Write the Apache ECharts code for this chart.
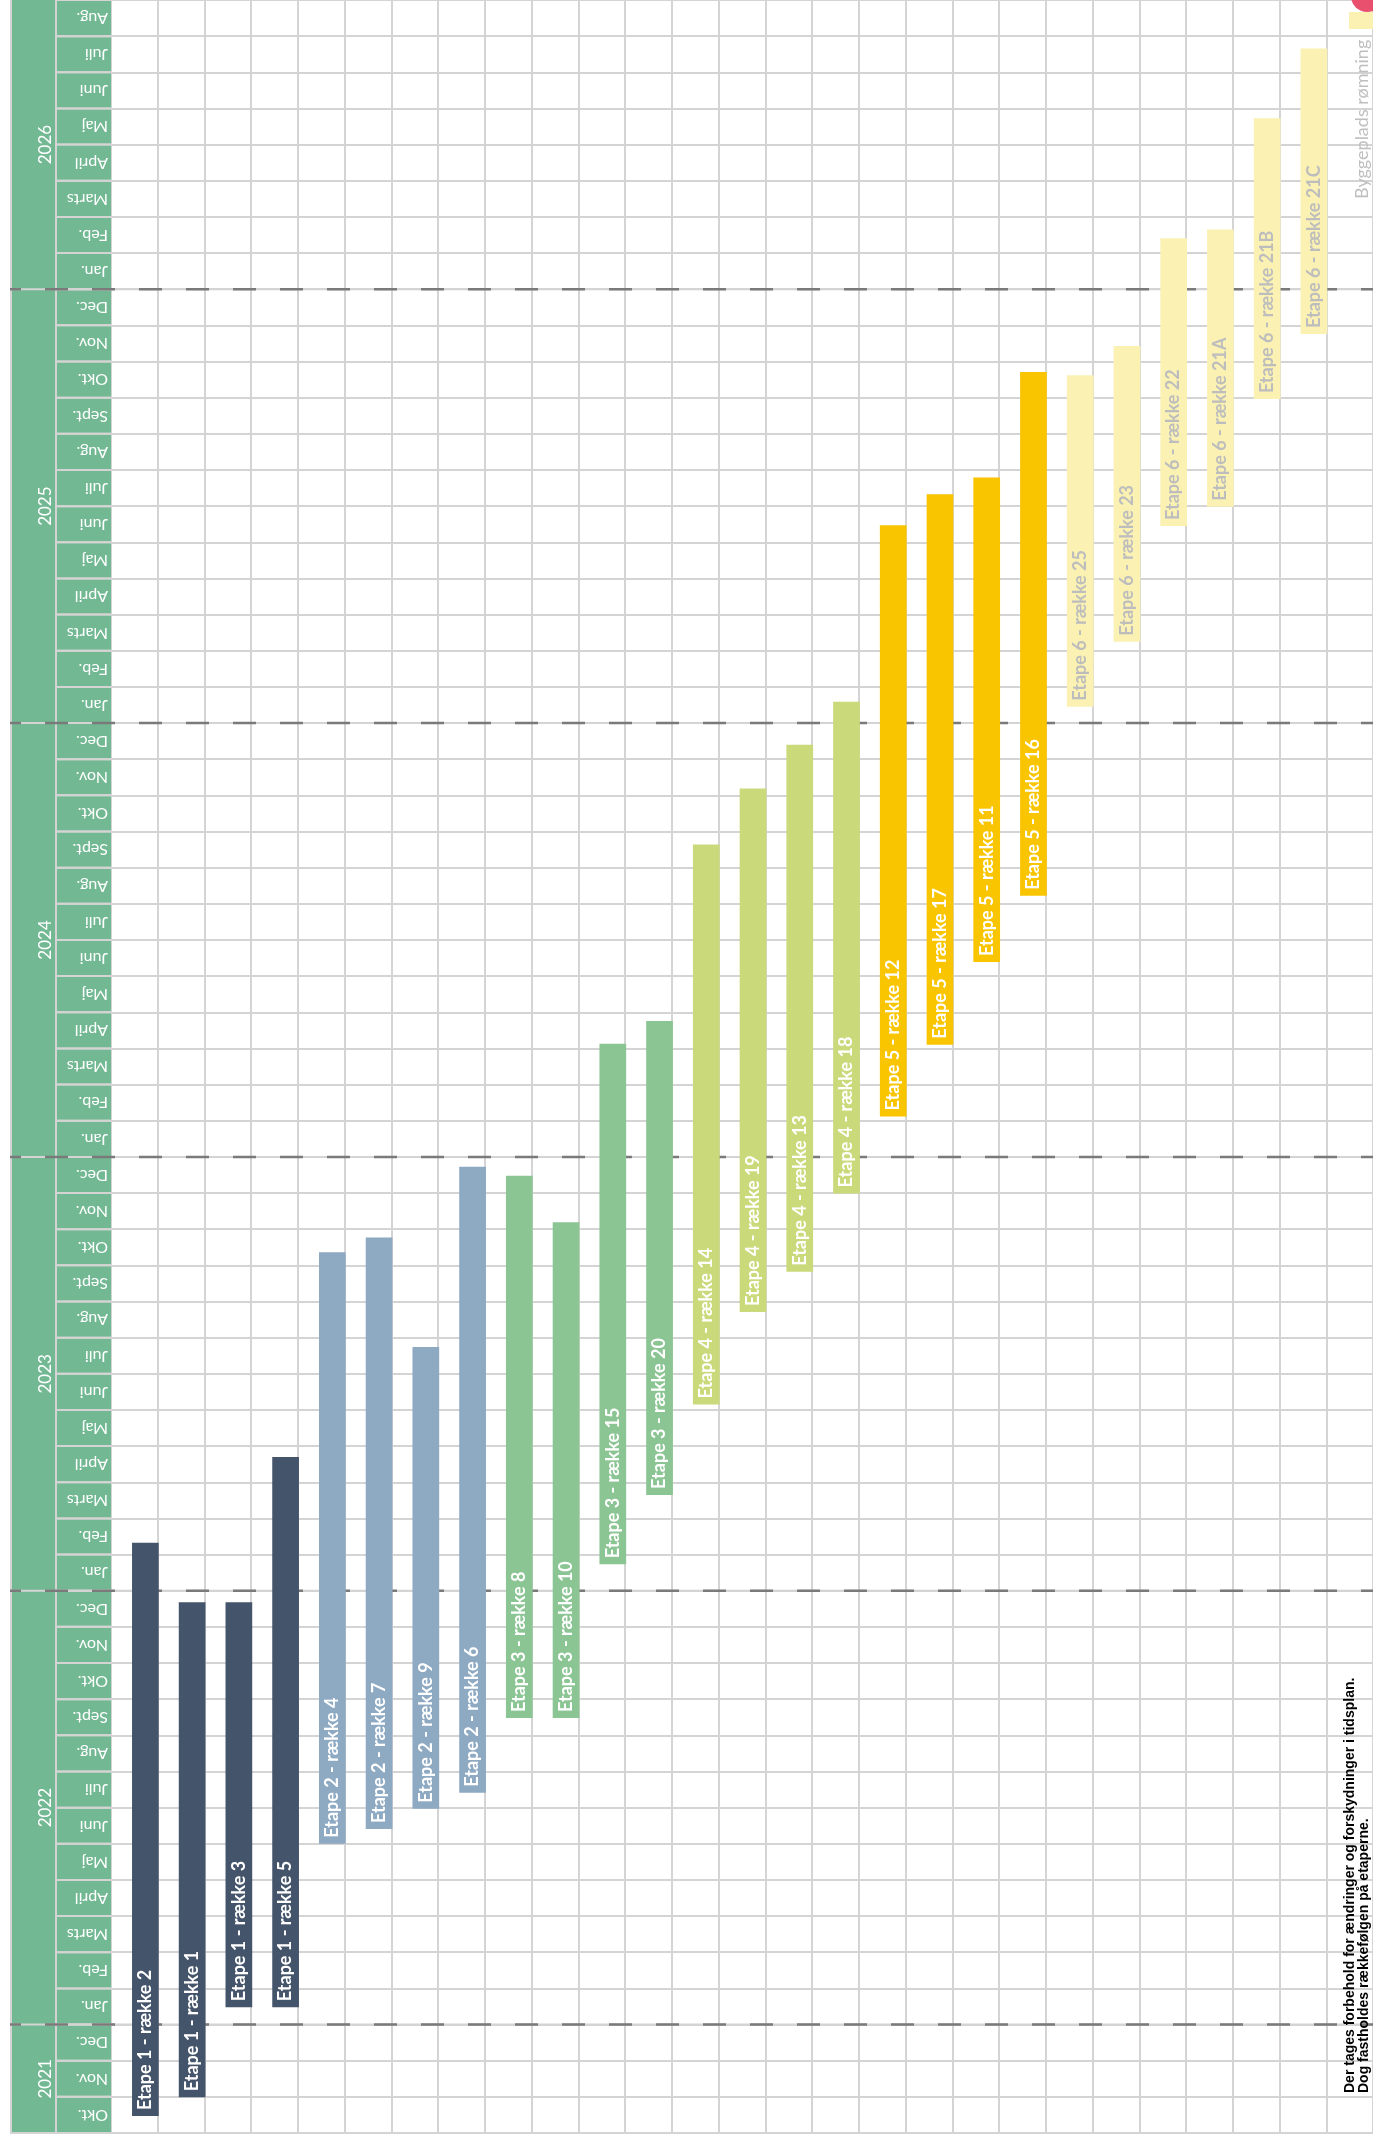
<!DOCTYPE html>
<html><head><meta charset="utf-8">
<script src="https://cdn.jsdelivr.net/npm/echarts@6/dist/echarts.min.js"></script>
<style>html,body{margin:0;padding:0;background:#fff}#c{width:1373px;height:2141px}</style>
</head><body><div id="c"></div>
<script>
// ---- DATA ----
// Time axis: months counted from 1 Okt. 2021 (0 = start of Okt. 2021)
const monthNames = ['Jan.','Feb.','Marts','April','Maj','Juni','Juli','Aug.','Sept.','Okt.','Nov.','Dec.'];
const firstMonthIndex = 9;           // Okt.
const monthCount = 59;               // Okt. 2021 .. Aug. 2026
const monthLabels = Array.from({length: monthCount}, (_, i) => monthNames[(firstMonthIndex + i) % 12]);
const years = ['2021','2022','2023','2024','2025','2026'];
const yearStart = [0, 3, 15, 27, 39, 51];
const yearEnd   = [3, 15, 27, 39, 51, 59];

const barNames = [
  'Etape 1 - række 2','Etape 1 - række 1','Etape 1 - række 3','Etape 1 - række 5',
  'Etape 2 - række 4','Etape 2 - række 7','Etape 2 - række 9','Etape 2 - række 6',
  'Etape 3 - række 8','Etape 3 - række 10','Etape 3 - række 15','Etape 3 - række 20',
  'Etape 4 - række 14','Etape 4 - række 19','Etape 4 - række 13','Etape 4 - række 18',
  'Etape 5 - række 12','Etape 5 - række 17','Etape 5 - række 11','Etape 5 - række 16',
  'Etape 6 - række 25','Etape 6 - række 23','Etape 6 - række 22','Etape 6 - række 21A','Etape 6 - række 21B','Etape 6 - række 21C'
];
const barStages = [1,1,1,1, 2,2,2,2, 3,3,3,3, 4,4,4,4, 5,5,5,5, 6,6,6,6,6,6];
const barStarts = [0.47, 0.99, 3.48, 3.48, 8.00, 8.41, 8.97, 9.41, 11.48, 11.48, 15.73, 17.65,
                   20.15, 22.71, 23.82, 25.99, 28.12, 30.10, 32.39, 34.22, 39.45, 41.25, 44.45, 44.98, 47.96, 49.76];
const barEnds   = [16.33, 14.68, 14.68, 18.70, 24.36, 24.77, 21.74, 26.73, 26.48, 25.19, 30.13, 30.76,
                   35.64, 37.19, 38.40, 39.59, 44.47, 45.33, 45.79, 48.71, 48.62, 49.43, 52.41, 52.65, 55.73, 57.66];
const legendLabel = 'Byggeplads rømning';
const noteLines = ['Der tages forbehold for ændringer og forskydninger i tidsplan.',
                   'Dog fastholdes rækkefølgen på etaperne.'];

// ---- STYLE ----
const stageColors = {1:'#44546a', 2:'#8ea9c2', 3:'#8cc594', 4:'#cad97a', 5:'#f9c400', 6:'#faf1b3'};
const headerGreen = '#72b893';
const gridGray = '#d4d4d4';
const labelFont = 'Lato, "Open Sans", sans-serif';
const noteFont = 'bold 14px "Liberation Sans", Arial, sans-serif';

const chart = echarts.init(document.getElementById('c'), null, {renderer: 'canvas'});

const hiddenAxis = {axisLine:{show:false}, axisTick:{show:false}, axisLabel:{show:false}, splitLine:{show:false}};

function renderYear(params, api) {
  const cs = params.coordSys;
  const s = api.value(0), e = api.value(1);
  const yTop = api.coord([0, e])[1], yBot = api.coord([0, s])[1];
  const children = [
    {type:'rect', shape:{x: cs.x, y: yTop, width: cs.width, height: yBot - yTop}, style:{fill: headerGreen}, z2: 0},
    {type:'line', shape:{x1: cs.x + 1, y1: yTop, x2: cs.x + 1, y2: yBot}, style:{stroke: gridGray, lineWidth: 2}, z2: 1},
    {type:'line', shape:{x1: cs.x + 46, y1: yTop, x2: cs.x + 46, y2: yBot}, style:{stroke: gridGray, lineWidth: 2}, z2: 1},
    {type:'text', x: cs.x + 36, y: (yTop + yBot) / 2, rotation: Math.PI / 2,
     style:{text: years[params.dataIndex], fill: '#ffffff', font: '17px ' + labelFont, align: 'center', verticalAlign: 'middle'}, z2: 2}
  ];
  if (s === 0) {
    children.push({type:'line', shape:{x1: cs.x, y1: yBot, x2: cs.x + cs.width, y2: yBot}, style:{stroke: gridGray, lineWidth: 2}, z2: 1});
  }
  return {type:'group', children};
}

function renderMonth(params, api) {
  const cs = params.coordSys;
  const i = api.value(0);
  const yTop = api.coord([0, i + 1])[1], yBot = api.coord([0, i])[1];
  return {type:'group', children:[
    {type:'line', shape:{x1: cs.x + 46, y1: yTop, x2: cs.x + cs.width, y2: yTop}, style:{stroke: gridGray, lineWidth: 2}},
    {type:'line', shape:{x1: cs.x + 46, y1: yBot, x2: cs.x + cs.width, y2: yBot}, style:{stroke: gridGray, lineWidth: 2}},
    {type:'text', x: cs.x + cs.width - 3, y: (yTop + yBot) / 2, rotation: Math.PI,
     style:{text: monthLabels[i], fill: '#ffffff', font: '16px ' + labelFont, align: 'left', verticalAlign: 'middle'}}
  ]};
}

function renderYearLine(params, api) {
  const y = api.coord([0, api.value(0)])[1];
  return {type:'group', children:[
    {type:'line', shape:{x1: 10, y1: y, x2: api.getWidth(), y2: y}, style:{stroke: gridGray, lineWidth: 2}},
    {type:'line', shape:{x1: 10, y1: y, x2: api.getWidth(), y2: y},
     style:{stroke: '#7a7a7a', lineWidth: 2.5, lineDash: [23, 24], lineDashOffset: 12}}
  ]};
}

function renderBar(params, api) {
  const col = api.value(0), s = api.value(1), e = api.value(2), st = api.value(3);
  const p0 = api.coord([col + 0.45, e]);
  const p1 = api.coord([col + 1, s]);
  const x = p0[0], y = p0[1], w = p1[0] - p0[0] + 1, h = p1[1] - p0[1];
  return {type:'group', children:[
    {type:'rect', shape:{x, y, width: w, height: h}, style:{fill: stageColors[st]}},
    {type:'text', x: x + w / 2, y: p1[1] - 6, rotation: Math.PI / 2,
     style:{text: barNames[params.dataIndex], fill: st === 6 ? '#bdbdbd' : '#ffffff',
            font: 'bold 18px ' + labelFont, align: 'left', verticalAlign: 'middle'}}
  ]};
}

const option = {
  animation: false,
  backgroundColor: '#ffffff',
  grid: [
    {left: 10, width: 101, top: -5.75, bottom: 8},
    {left: 111, right: 0, top: -5.75, bottom: 8}
  ],
  xAxis: [
    Object.assign({type:'value', gridIndex: 0, min: 0, max: 1}, hiddenAxis),
    {type:'value', gridIndex: 1, min: 0, max: 27, interval: 1,
     axisLine:{show:false}, axisTick:{show:false}, axisLabel:{show:false},
     splitLine:{show:true, lineStyle:{color: gridGray, width: 2}}}
  ],
  yAxis: [
    Object.assign({type:'value', gridIndex: 0, min: 0, max: monthCount}, hiddenAxis),
    {type:'value', gridIndex: 1, min: 0, max: monthCount, interval: 1,
     axisLine:{show:false}, axisTick:{show:false}, axisLabel:{show:false},
     splitLine:{show:true, lineStyle:{color: gridGray, width: 2}}}
  ],
  series: [
    {type:'custom', name:'years', xAxisIndex: 0, yAxisIndex: 0, z: 1, clip: false,
     data: years.map((y, i) => [yearStart[i], yearEnd[i]]), encode:{y:[0,1]}, renderItem: renderYear, silent: true},
    {type:'custom', name:'months', xAxisIndex: 0, yAxisIndex: 0, z: 2, clip: false,
     data: monthLabels.map((m, i) => [i]), encode:{y:[0]}, renderItem: renderMonth, silent: true},
    {type:'custom', name:'yearLines', xAxisIndex: 1, yAxisIndex: 1, z: 3, clip: false,
     data: yearStart.slice(1).map(v => [v]), encode:{y:[0]}, renderItem: renderYearLine, silent: true},
    {type:'custom', name:'bars', xAxisIndex: 1, yAxisIndex: 1, z: 4, clip: false,
     data: barNames.map((n, i) => [i, barStarts[i], barEnds[i], barStages[i]]),
     encode:{x:[0], y:[1,2]}, renderItem: renderBar, silent: true}
  ],
  graphic: [
    {type:'circle', left: 1351, top: -20, shape:{r: 16}, style:{fill:'#e8506e'}, z: 10},
    {type:'rect', left: 1349, top: 12, shape:{width: 30, height: 17}, style:{fill: stageColors[6]}, z: 10},
    {type:'text', x: 1362, y: 199, rotation: Math.PI / 2, z: 10,
     style:{text: legendLabel, fill:'#bfbfbf', font: '18px ' + labelFont, align:'left', verticalAlign:'middle'}},
    {type:'text', x: 1350, y: 2093, rotation: Math.PI / 2, z: 10,
     style:{text: noteLines[0], fill:'#000000', font: noteFont, align:'left', verticalAlign:'middle'}},
    {type:'text', x: 1364, y: 2093, rotation: Math.PI / 2, z: 10,
     style:{text: noteLines[1], fill:'#000000', font: noteFont, align:'left', verticalAlign:'middle'}}
  ]
};
chart.setOption(option);
</script>
</body></html>
